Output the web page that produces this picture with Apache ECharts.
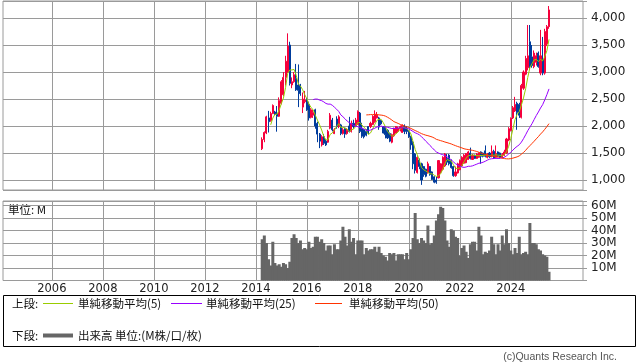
<!DOCTYPE html>
<html><head><meta charset="utf-8">
<script src="https://cdn.jsdelivr.net/npm/echarts@6/dist/echarts.min.js"></script>
<style>html,body{margin:0;padding:0;background:#fff}#c{width:638px;height:362px}</style>
</head><body><div id="c"></div>
<script>
// Monthly data, 2014-04 .. 2025-07
const firstMonth = '2014-04';
const opens = [1580,1750,1870,2150,2100,2230,2260,2220,2180,2420,2580,2900,3000,3500,2760,2820,2880,2760,2760,2350,
2450,2480,2400,2160,2200,2300,2050,1850,1650,1800,1720,1700,1960,2110,1860,2130,1990,2020,1860,1960,
1860,2000,1900,2050,2000,2030,2240,1960,1930,1900,1990,1990,2030,2080,2150,2150,2100,1990,1990,1920,
1860,1700,1820,1870,1900,1950,1880,1990,1950,1900,1800,1700,1480,1140,1370,1300,1250,1200,1130,1250,
1150,1060,1000,1040,1150,1200,1260,1400,1460,1360,1250,1080,1130,1190,1260,1310,1320,1380,1500,1380,
1460,1400,1420,1520,1500,1540,1420,1500,1440,1530,1420,1520,1500,1420,1460,1500,1740,1920,2150,2280,
2420,2400,2160,2700,2960,3080,3560,3280,3100,3180,3350,2980,3230,2980,3520,3840];
const closes = [1750,1880,2170,2080,2230,2380,2220,2180,2470,2820,2900,3200,3480,2790,2820,2950,2670,2660,2600,2500,
2480,2300,2150,2300,2250,2000,1850,1720,1800,1680,1650,1900,2200,1930,1930,1990,2170,1860,1930,1850,
1920,1900,2050,1990,2110,2270,1900,1810,1800,1830,1870,2050,2180,2220,2200,1980,2040,1870,1840,1780,
1720,1840,1950,1990,1960,1990,2010,1900,1900,1800,1650,1300,1180,1420,1250,1000,1100,1070,1300,1100,
1010,960,960,1360,1300,1420,1480,1330,1300,1230,1080,1150,1300,1360,1420,1460,1490,1520,1400,1460,
1400,1480,1500,1440,1440,1440,1480,1430,1530,1410,1490,1440,1420,1470,1520,1760,1950,2140,2340,2400,
2250,2200,2750,3000,3250,3300,3100,3120,3350,3300,3100,3300,2980,3750,3840,4150];
const lows = [1555,1700,1850,1880,2080,2220,2200,1895,2170,2400,2550,2750,2980,2750,2700,2800,2650,2350,2560,2240,
2420,2280,2100,2140,2150,1950,1700,1590,1620,1650,1630,1690,1940,1900,1850,1950,1960,1830,1840,1780,
1840,1880,1880,1950,1980,2020,1870,1780,1770,1810,1850,1960,2020,2060,2140,1930,2020,1860,1770,1760,
1700,1680,1800,1860,1880,1900,1870,1850,1850,1780,1560,1200,1120,1120,1200,910,1060,1050,1120,1080,
1000,940,930,1030,1120,1180,1240,1280,1270,1210,1060,1060,1120,1180,1250,1300,1310,1370,1380,1370,
1390,1390,1410,1300,1420,1420,1400,1410,1420,1390,1400,1420,1400,1400,1440,1480,1720,1900,2130,2260,
1930,2150,2140,2670,2940,3030,3060,3080,3070,3120,3080,2940,2940,2950,3480,3800];
const highs = [1790,1900,2190,2280,2265,2400,2280,2370,2530,2850,3000,3300,3716,3560,2900,3000,3150,3140,2780,2620,
2650,2520,2450,2330,2300,2320,2080,1870,1830,1850,1760,1930,2240,2150,1960,2180,2200,2040,1960,1970,
1950,2170,2100,2117,2150,2290,2260,2060,1950,1940,2000,2080,2200,2290,2260,2170,2120,2000,2000,1940,
1880,1860,1970,2000,1990,2010,2030,2030,2000,1920,1820,1720,1500,1440,1400,1320,1260,1210,1340,1260,
1160,1070,1060,1370,1310,1440,1500,1480,1480,1380,1260,1250,1320,1380,1440,1480,1500,1540,1600,1480,
1470,1500,1510,1530,1510,1640,1500,1520,1640,1560,1640,1530,1510,1500,1560,1780,1980,2160,2370,2540,
2450,2430,2780,3030,3300,3870,3870,3500,3400,3360,3380,3780,3650,3800,3870,4222];
const volumes = [33,36,30,17,12,31,14,12,13,11,14,13,10,15,34,37,34,30,32,25,
26,25,31,26,27,35,35,31,33,30,24,28,28,21,29,25,25,32,43,35,
28,41,31,34,21,32,32,32,21,26,24,25,25,27,23,27,22,20,19,16,
22,21,22,16,21,21,21,17,22,17,25,34,54,33,30,34,32,30,44,29,
30,36,48,53,59,58,48,32,27,41,40,35,34,20,26,28,23,18,29,31,
31,24,43,36,21,23,22,24,35,29,21,29,24,36,29,41,30,24,21,26,
22,35,21,22,23,21,46,30,30,29,25,24,21,20,19,7];
const yearLabels = ['2006','2008','2010','2012','2014','2016','2018','2020','2022','2024'];
const priceTicks = [1000,1500,2000,2500,3000,3500,4000];
const volumeTicks = [10,20,30,40,50,60];
const maPeriods = [5,25,50];
const maColors = ['#99cc00','#9900ff','#ff3300'];
const legendNames = ['単純移動平均(5)','単純移動平均(25)','単純移動平均(50)'];

// axis months 2004-02 .. 2026-11
const cats = [];
for (let i = 0; i < 274; i++) {
  const t = 2004 * 12 + 1 + i;
  cats.push(Math.floor(t / 12) + '-' + String(t % 12 + 1).padStart(2, '0'));
}
const off = cats.indexOf(firstMonth);
const N = cats.length;
const candle = new Array(N).fill('-');
const vol = new Array(N).fill('-');
for (let i = 0; i < closes.length; i++) {
  candle[off + i] = [opens[i], closes[i], lows[i], highs[i]];
  vol[off + i] = volumes[i];
}
function ma(n) {
  const out = new Array(N).fill('-');
  for (let i = n - 1; i < closes.length; i++) {
    let s = 0;
    for (let k = i - n + 1; k <= i; k++) s += closes[k];
    out[off + i] = +(s / n).toFixed(1);
  }
  return out;
}
const isYear = (i, v) => v.slice(5) === '01' && yearLabels.indexOf(v.slice(0, 4)) >= 0;
const fmtNum = v => String(v).replace(/\B(?=(\d{3})+(?!\d))/g, ',');
const gridCol = '#9a9a9a';
const font = 'DejaVu Sans';

const xBase = (gi, showLabel) => ({
  type: 'category', data: cats, gridIndex: gi, boundaryGap: false,
  axisLine: {show: false}, axisTick: {show: false},
  splitLine: {show: true, interval: isYear, lineStyle: {color: gridCol, width: 1}},
  axisLabel: showLabel ? {show: true, interval: isYear, formatter: v => v.slice(0, 4),
    color: '#222', fontSize: 11.5, fontFamily: font, margin: 3} : {show: false}
});

const chart = echarts.init(document.getElementById('c'), null, {renderer: 'canvas'});
const series = [
  {type: 'candlestick', xAxisIndex: 0, yAxisIndex: 0, data: candle, barWidth: 1.6,
   itemStyle: {color: '#f5003c', color0: '#003c9c', borderColor: '#f5003c', borderColor0: '#003c9c', borderWidth: 1}},
  {type: 'bar', xAxisIndex: 1, yAxisIndex: 1, data: vol, barWidth: 3, itemStyle: {color: '#666666'}}
];
maPeriods.forEach((p, k) => series.push({type: 'line', xAxisIndex: 0, yAxisIndex: 0, data: ma(p), showSymbol: false,
  lineStyle: {color: maColors[k], width: 1}, itemStyle: {color: maColors[k]}, z: 5}));

const legendY1 = 303.5, legendY2 = 335.5;
const textStyle = (t, x, y, extra) => Object.assign({type: 'text', x: x, y: y,
  style: {text: t, fill: '#111', font: '11.5px "Noto Sans CJK JP"', verticalAlign: 'middle', align: 'left'}}, extra || {});

chart.setOption({
  animation: false,
  backgroundColor: '#fff',
  grid: [
    {left: 3, top: 1, width: 580, height: 189, show: true, borderColor: gridCol, borderWidth: 1},
    {left: 3, top: 201, width: 580, height: 79.5, show: true, borderColor: gridCol, borderWidth: 1}
  ],
  xAxis: [xBase(0, false), xBase(1, true)],
  yAxis: [
    {type: 'value', gridIndex: 0, position: 'right', min: 815, max: 4315, splitNumber: 7, minInterval: 500, maxInterval: 500,
     axisLine: {show: false}, axisTick: {show: true, length: 4, lineStyle: {color: gridCol}},
     splitLine: {show: true, lineStyle: {color: gridCol}},
     axisLabel: {color: '#222', fontSize: 12, fontFamily: font, margin: 8,
       formatter: v => priceTicks.indexOf(v) >= 0 ? fmtNum(v) : ''}},
    {type: 'value', gridIndex: 1, position: 'right', min: 0, max: 63.6, interval: 10,
     axisLine: {show: false}, axisTick: {show: true, length: 4, lineStyle: {color: gridCol}},
     splitLine: {show: true, lineStyle: {color: gridCol}},
     axisLabel: {color: '#222', fontSize: 12, fontFamily: font, margin: 8,
       formatter: v => volumeTicks.indexOf(Math.round(v)) >= 0 && Math.abs(v - Math.round(v)) < 1e-6 ? v + 'M' : ''}}
  ],
  series: series,
  graphic: [
    {type: 'rect', shape: {x: 3.5, y: 295.5, width: 632, height: 51}, style: {fill: '#fff', stroke: '#000', lineWidth: 1}},
    textStyle('上段:', 12, legendY1),
    {type: 'line', shape: {x1: 43, y1: legendY1, x2: 73, y2: legendY1}, style: {stroke: maColors[0], lineWidth: 1}},
    textStyle(legendNames[0], 78, legendY1),
    {type: 'line', shape: {x1: 171, y1: legendY1, x2: 202, y2: legendY1}, style: {stroke: maColors[1], lineWidth: 1}},
    textStyle(legendNames[1], 206, legendY1),
    {type: 'line', shape: {x1: 315, y1: legendY1, x2: 342, y2: legendY1}, style: {stroke: maColors[2], lineWidth: 1}},
    textStyle(legendNames[2], 349, legendY1),
    textStyle('下段:', 12, legendY2),
    {type: 'line', shape: {x1: 43, y1: legendY2, x2: 73, y2: legendY2}, style: {stroke: '#666666', lineWidth: 4}},
    textStyle('出来高 単位:(M株/口/枚)', 78, legendY2),
    textStyle('単位: M', 8, 209.5),
    {type: 'text', x: 617, y: 357, style: {text: '(c)Quants Research Inc.', fill: '#555', font: '10.5px "Liberation Sans"', align: 'right', verticalAlign: 'middle'}}
  ]
});
</script></body></html>
